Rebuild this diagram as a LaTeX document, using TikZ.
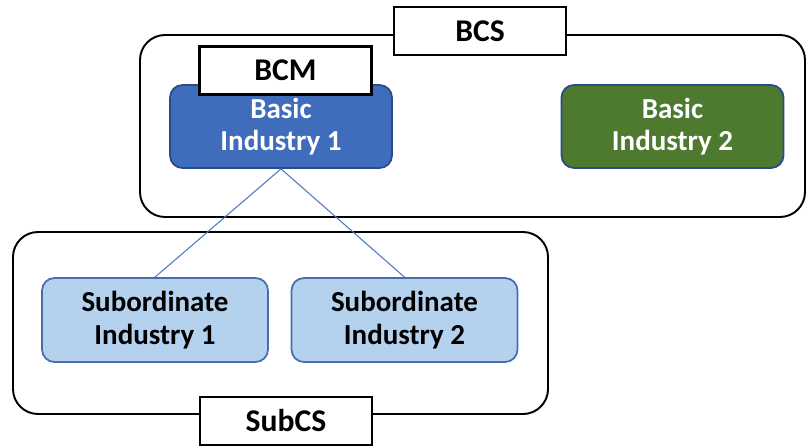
\documentclass[tikz,border=0pt]{standalone}
\usepackage{fontspec}
\setmainfont{Carlito}
\usetikzlibrary{positioning}

\definecolor{bluemid}{RGB}{78,128,210}
\definecolor{blueedge}{RGB}{64,108,188}
\definecolor{blueline}{RGB}{40,75,140}
\definecolor{greenmid}{RGB}{96,145,60}
\definecolor{greenedge}{RGB}{78,122,48}
\definecolor{palemid}{RGB}{205,226,245}
\definecolor{paleedge}{RGB}{180,210,238}
\definecolor{paleline}{RGB}{70,110,170}
\definecolor{linkblue}{RGB}{80,120,190}

\begin{document}
\begin{tikzpicture}[
  region/.style={draw=black, line width=1.1pt, rounded corners=0.5cm},
  tag/.style={rectangle, draw=black, line width=1.3pt, fill=white, minimum width=3.44cm, minimum height=0.96cm, font=\fontsize{18}{21}\selectfont\bfseries},
  industry/.style={rectangle, rounded corners=0.25cm, line width=1pt, align=center, minimum width=4.44cm, minimum height=1.66cm, font=\fontsize{16.5}{18.5}\selectfont\bfseries},
  basicblue/.style={industry, draw=blueline, top color=blueedge, middle color=bluemid, bottom color=blueedge, text=white},
  basicgreen/.style={industry, draw=blueline, top color=greenedge, middle color=greenmid, bottom color=greenedge, text=white},
  sub/.style={industry, minimum width=4.52cm, minimum height=1.68cm, draw=paleline, top color=paleedge, middle color=palemid, bottom color=paleedge, text=black},
  link/.style={draw=linkblue, line width=0.6pt},
]
\useasboundingbox (0,0) rectangle (16.14,-8.92);

% === BCS (top) ===
\draw[region] (2.8,-0.7) rectangle (16.1,-4.34);
\node[tag] (bcs) at (9.6,-0.62) {BCS};
\node[basicblue] (bi1) at (5.62,-2.53) {Basic\\Industry 1};
\node[basicgreen] (bi2) at (13.45,-2.53) {Basic\\Industry 2};
\node[tag] (bcm) at (5.71,-1.41) {BCM};

% === SubCS (bottom) ===
\draw[region] (0.26,-4.64) rectangle (10.96,-8.28);
\node[tag] (subcs) at (5.72,-8.42) {SubCS};
\node[sub] (si1) at (3.1,-6.4) {Subordinate\\Industry 1};
\node[sub] (si2) at (8.09,-6.4) {Subordinate\\Industry 2};

\draw[link] (bi1.south) -- (si1.north);
\draw[link] (bi1.south) -- (si2.north);
\end{tikzpicture}
\end{document}
